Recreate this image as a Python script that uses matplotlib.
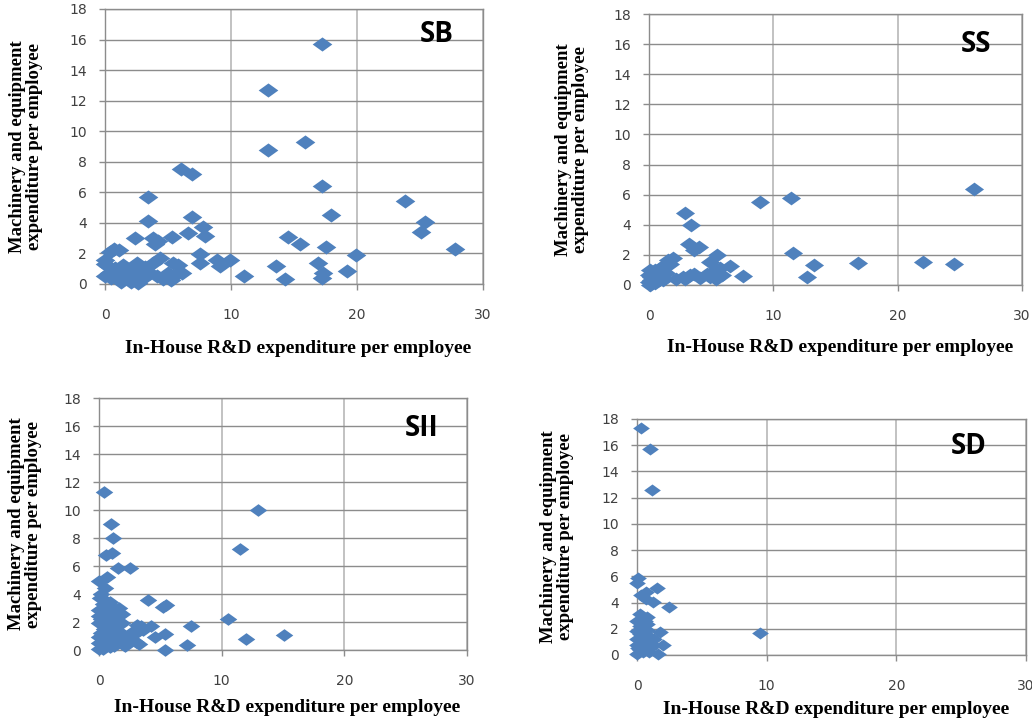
import matplotlib
matplotlib.use('Agg')
import matplotlib.pyplot as plt
import numpy as np

W, H = 1032, 720

# values
sb_x = [17.2, 12.9, 12.9, 15.9, 6.0, 6.9, 17.2, 23.8, 3.4, 17.9, 25.4, 25.1, 27.8, 6.9, 3.4,
        2.4, 3.8, 4.2, 4.0, 5.3, 6.6, 7.8, 7.9, 7.5, 7.5, 8.9, 9.1, 9.9, 11.0, 14.5, 15.5,
        17.5, 19.9, 13.6, 16.9, 19.2, 14.3, 17.3, 17.2,
        0.7, 0.4, 1.1, 0.0, 0.0, 0.3, 0.0, 0.8, 1.45, 1.85, 1.3, 2.1, 2.65, 2.5, 2.8, 2.4,
        3.0, 3.6, 3.8, 4.4, 4.1, 4.6, 5.0, 5.4, 5.8, 5.8, 5.2, 6.1, 1.6, 1.9, 0.2, 1.2,
        2.2, 3.2, 2.0, 2.9, 0.5]
sb_y = [15.7, 12.7, 8.8, 9.3, 7.5, 7.2, 6.4, 5.4, 5.7, 4.5, 4.05, 3.4, 2.3, 4.4, 4.1,
        3.0, 3.0, 2.8, 2.6, 3.1, 3.35, 3.7, 3.15, 1.95, 1.35, 1.55, 1.15, 1.55, 0.5, 3.1, 2.6,
        2.45, 1.9, 1.2, 1.4, 0.85, 0.3, 0.75, 0.4,
        2.3, 2.1, 2.2, 1.55, 1.3, 0.7, 0.5, 1.05, 1.25, 0.85, 0.15, 0.15, 0.05, 1.35, 1.0, 0.6,
        0.5, 0.7, 1.35, 1.7, 0.5, 0.35, 0.7, 1.35, 1.25, 0.7, 0.25, 0.7, 0.6, 0.35, 1.2, 0.9,
        1.0, 1.1, 0.55, 0.3, 0.4]

ss_x = [26.1, 8.9, 11.4, 2.9, 3.35, 3.2, 4.0, 3.6, 11.6, 5.5, 16.8, 22.0, 24.5, 13.3, 12.7,
        7.6, 6.5, 5.7, 4.9, 5.3, 4.7, 5.85, 5.4, 4.9, 4.1, 3.3, 2.76, 2.2, 1.96, 1.55, 1.3,
        0.9, 0.5, 0.1, 0.0, 0.2, 0.6, 1.0, 1.4, 0.05, 0.0, 0.5, 1.15, 0.3, 0.8, 1.2, 1.7,
        0.7, 1.0, 2.9, 3.6, 0.2]
ss_y = [6.35, 5.5, 5.75, 4.75, 3.97, 2.7, 2.5, 2.35, 2.1, 2.0, 1.45, 1.55, 1.4, 1.3, 0.55,
        0.6, 1.25, 1.15, 1.5, 1.0, 0.7, 0.66, 0.4, 0.5, 0.45, 0.65, 0.5, 0.4, 1.77, 1.66, 1.35,
        1.1, 1.0, 1.0, 0.66, 0.33, 0.55, 0.55, 0.8, 0.0, 0.2, 0.1, 0.33, 0.8, 0.3, 1.2, 1.4,
        0.7, 0.9, 0.4, 0.7, 0.5]

sii_x = [0.4, 13.0, 1.0, 1.15, 11.5, 0.6, 1.1, 1.55, 2.5, 0.0, 0.65, 0.45, 4.0, 5.2, 5.5,
         10.5, 7.5, 15.1, 12.0, 7.2, 5.35, 5.35, 4.6, 4.2, 3.4, 3.6, 3.0, 2.6, 3.3, 2.1,
         0.1, 0.6, 0.3, 1.1, 1.6, 1.9, 0.0, 0.0, 0.8, 1.3, 1.9, 0.0, 0.4, 1.1, 1.7, 0.0,
         0.7, 1.3, 2.0, 0.0, 0.3, 0.9, 3.1, 2.7, 2.2, 2.3, 3.0, 0.5, 0.9, 0.2, 0.6, 1.5,
         0.3, 1.4, 0.0, 1.2, 0.5, 0.8, 0.2, 0.7, 1.0, 0.4, 0.9, 1.5, 0.2, 0.6]
sii_y = [11.3, 10.0, 9.0, 8.0, 7.25, 6.8, 6.95, 5.85, 5.85, 4.9, 5.2, 4.4, 3.55, 3.05, 3.2,
         2.25, 1.7, 1.1, 0.8, 0.35, 0.0, 1.15, 0.95, 1.75, 1.7, 1.4, 1.2, 0.7, 0.45, 0.3,
         3.7, 3.5, 3.3, 3.1, 3.0, 2.6, 2.85, 2.4, 2.4, 2.1, 1.9, 1.9, 1.5, 1.4, 1.3, 0.95,
         0.8, 0.7, 0.35, 0.5, 0.1, 0.2, 1.8, 1.3, 0.9, 0.5, 0.6, 2.0, 2.8, 1.2, 0.4, 1.0,
         2.6, 2.5, 0.1, 0.3, 3.0, 1.7, 2.2, 1.1, 2.2, 0.75, 3.4, 1.9, 4.0, 1.6]

sd_x = [0.3, 1.0, 1.15, 0.1, 0.0, 0.3, 0.7, 1.55, 1.2, 0.7, 2.45, 9.45, 0.2, 0.5, 0.0,
        0.25, 0.75, 0.0, 1.75, 0.4, 1.0, 0.0, 2.0, 0.5, 1.2, 0.0, 0.25, 0.9, 1.6, 0.0,
        0.6, 0.3, 0.8, 0.4, 1.3, 0.1, 0.6, 0.2, 1.0, 0.5, 0.3, 0.8]
sd_y = [17.3, 15.7, 12.6, 5.85, 5.5, 4.6, 4.8, 5.1, 4.05, 4.25, 3.65, 1.65, 3.1, 2.8, 2.6,
        2.25, 2.35, 1.85, 1.75, 1.5, 1.4, 1.2, 0.8, 0.9, 0.8, 0.75, 0.35, 0.25, 0.1, 0.1,
        0.6, 2.0, 1.9, 1.1, 1.2, 0.5, 2.6, 1.6, 0.5, 0.2, 0.9, 2.9]

xticks = [0, 10, 20, 30]
yticks = [0, 2, 4, 6, 8, 10, 12, 14, 16, 18]
xlabel = 'In-House R&D expenditure per employee'
ylabel = 'Machinery and equipment\nexpenditure per employee'

blue = '#4F81BD'
diamond = [(-1, 0), (0, 0.72), (1, 0), (0, -0.72), (-1, 0)]

# panel: data, axes box in pixels (left, top, right, bottom), label, label centre,
# ylabel centre x, xlabel centre y, marker size
panels = [
    (sb_x, sb_y, (105, 9, 483, 284), 'SB', (437, 35), 26, 348, 200),
    (ss_x, ss_y, (649, 14, 1022, 285), 'SS', (976, 45), 572, 347, 190),
    (sii_x, sii_y, (99, 398, 467, 650), 'SII', (422, 428), 25, 707, 160),
    (sd_x, sd_y, (637, 419, 1026, 655), 'SD', (969, 447), 557, 709, 145),
]

fig = plt.figure(figsize=(W / 100, H / 100), dpi=100)

for x, y, box, name, npos, ylx, xly, ms in panels:
    l, t, r, b = box
    ax = fig.add_axes([l / W, 1 - b / H, (r - l) / W, (b - t) / H])
    ax.scatter(x, y, s=ms, marker=diamond, color=blue, linewidths=0, zorder=3, clip_on=False)
    ax.set_xlim(0, 30)
    ax.set_ylim(0, 18)
    ax.set_xticks(xticks)
    ax.set_yticks(yticks)
    ax.grid(axis='y', color='#8C8C8C', linewidth=1.0, zorder=0)
    ax.grid(axis='x', color='#BDBDBD', linewidth=1.3, zorder=0)
    for s in ax.spines.values():
        s.set_color('#8C8C8C')
        s.set_linewidth(1.0)
    ax.tick_params(axis='both', direction='out', length=4, width=1, color='#8C8C8C',
                   labelcolor='#404040', labelsize=10)
    ax.tick_params(axis='x', pad=13)
    ax.tick_params(axis='y', pad=9)
    ax.set_axisbelow(True)

    cy = (t + b) / 2
    fig.text(ylx / W, 1 - cy / H, ylabel, rotation=90, ha='center', va='center',
             multialignment='center', family='Liberation Serif', weight='bold',
             fontsize=13.5, linespacing=1.05)
    fig.text((l + r) / 2 / W + 0.004, 1 - xly / H, xlabel, ha='center', va='center',
             family='Liberation Serif', weight='bold', fontsize=14)
    fig.text(npos[0] / W, 1 - npos[1] / H, name, ha='center', va='center',
             family='Open Sans', weight='bold', fontsize=20, color='black')

fig.savefig('out.png', dpi=100)
